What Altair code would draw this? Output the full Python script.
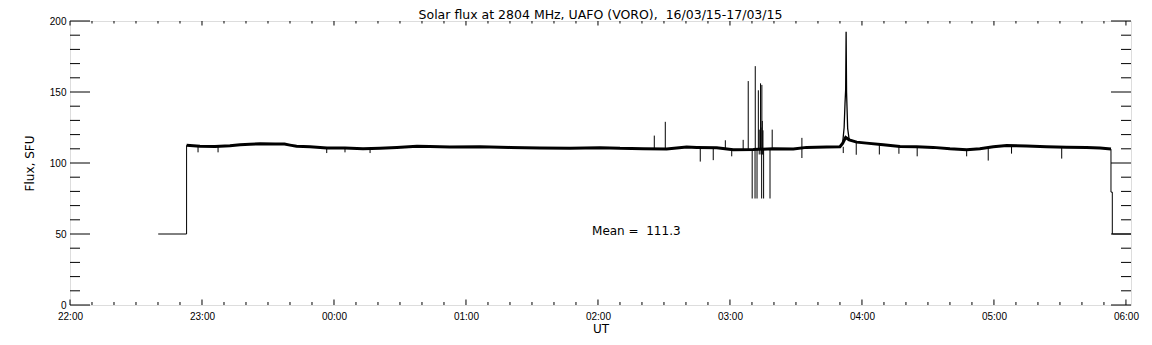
import altair as alt
import pandas as pd

NBSP = "\u00a0"
TITLE = "Solar flux at 2804 MHz, UAFO (VORO)," + NBSP + " 16/03/15-17/03/15"
X_TITLE = "UT"
Y_TITLE = "Flux, SFU"
X_TICK_LABELS = ["22:00", "23:00", "00:00", "01:00", "02:00", "03:00", "04:00", "05:00", "06:00"]
Y_TICKS = [0, 50, 100, 150, 200]
X_END_MIN = 482.3  # right edge of the frame, minutes after 22:00 UT

# ---- data (times in minutes after 22:00 UT, flux in SFU) ----
edge_left_t = [40.1, 53.0, 53.0]
edge_left_v = [50.0, 50.0, 112.5]
edge_right_t = [473.2, 473.2, 473.8, 473.8, 483.0]
edge_right_v = [109.8, 79.5, 79.5, 50.0, 50.0]

band_t = [53.0, 59.1, 65.9, 72.7, 77.3, 81.8, 86.4, 93.2, 97.5, 100.0, 103.0, 109.1, 116.8,
          125.0, 133.2, 140.9, 148.6, 157.7, 163.6, 172.7, 186.4, 200.0, 213.6, 227.3,
          240.9, 250.0, 260.6, 271.2, 280.3, 284.9, 294.0, 301.5, 310.6, 319.7, 328.8,
          334.8, 343.9, 350.0, 351.2, 352.6, 354.2, 357.6, 362.1, 369.7, 377.3, 384.8,
          392.4, 400.0, 407.6, 413.6, 419.7, 425.8, 434.8, 443.9, 453.0, 462.1, 468.2,
          473.2]
band_v = [112.5, 111.8, 111.6, 112.2, 112.8, 113.2, 113.6, 113.3, 113.3, 112.6, 111.8, 111.5, 110.5,
          110.6, 110.0, 110.4, 110.9, 111.8, 111.6, 111.2, 111.4, 111.0, 110.6, 110.4,
          110.8, 110.3, 110.1, 109.8, 111.2, 111.0, 110.8, 109.3, 109.5, 110.1, 109.8,
          111.0, 111.2, 111.4, 113.7, 118.0, 116.3, 114.7, 114.0, 112.8, 111.6, 111.4,
          111.0, 110.0, 109.3, 110.0, 111.4, 112.3, 111.9, 111.4, 111.1, 110.9, 110.5,
          109.8]

flare_t = [350.0, 351.2, 351.9, 352.3, 352.6, 352.8, 353.0, 353.2, 353.5, 354.2, 355.5]
flare_v = [111.4, 113.7, 125.0, 142.0, 152.0, 192.5, 150.0, 139.6, 124.4, 116.3, 115.5]

spike_t = [58.2, 67.3, 116.7, 125.0, 136.4, 265.6, 270.6, 286.5, 292.4, 297.9, 300.8,
           306.0, 308.3, 310.1, 311.4, 311.5, 312.3, 312.9, 313.3, 313.9, 314.1, 314.4,
           314.5, 314.7, 315.0, 315.3, 318.2, 319.2, 332.7, 351.5, 357.4, 367.9, 376.8,
           385.1, 407.6, 417.4, 428.0, 450.8]
spike_lo = [107.5, 107.5, 107.0, 107.5, 107.0, 110.1, 109.8, 101.0, 102.0, 109.5, 104.7,
            109.4, 109.4, 75.0, 75.0, 109.5, 75.0, 109.5, 106.0, 109.5, 106.0, 75.0,
            109.5, 106.0, 106.0, 75.0, 75.0, 109.5, 103.5, 107.0, 105.8, 106.0, 106.5,
            104.7, 104.7, 101.7, 106.6, 103.1]
spike_hi = [111.8, 111.6, 110.5, 110.6, 110.2, 119.3, 129.0, 110.8, 110.8, 116.0, 109.5,
            116.3, 157.7, 109.5, 109.5, 168.2, 109.5, 151.2, 123.5, 156.1, 125.0, 109.5,
            155.0, 129.6, 123.0, 109.5, 109.5, 123.5, 117.7, 111.4, 114.7, 112.8, 111.6,
            111.4, 109.3, 111.0, 112.3, 111.1]

MEAN_TEXT = "Mean =" + NBSP + " 111.3"
mean_t = [237.3]
mean_v = [52.4]

# ---- layout ----
W = 1061
H = 284
PAD_TOP = 13
FONT = "DejaVu Sans"
X_END = X_END_MIN / 60.0

band_df = pd.DataFrame({"h": [t / 60 for t in band_t], "v": band_v, "i": range(len(band_t))})
flare_df = pd.DataFrame({"h": [t / 60 for t in flare_t], "v": flare_v, "i": range(len(flare_t))})
edge_df = pd.DataFrame({
    "h": [t / 60 for t in edge_left_t + edge_right_t],
    "v": edge_left_v + edge_right_v,
    "seg": ["L"] * len(edge_left_t) + ["R"] * len(edge_right_t),
    "i": list(range(len(edge_left_t))) + list(range(len(edge_right_t))),
})
spike_df = pd.DataFrame({"h": [t / 60 for t in spike_t], "v": spike_lo, "hi": spike_hi})
mean_df = pd.DataFrame({"h": [t / 60 for t in mean_t], "v": mean_v, "txt": [MEAN_TEXT]})
title_df = pd.DataFrame({"txt": [TITLE]})

x_major = list(range(len(X_TICK_LABELS)))
x_minor = [k / 6 for k in range(1, 49) if k % 6]
y_minor = [v for v in range(10, 200, 10) if v % 50]
xmaj_df = pd.DataFrame({"h": x_major})
xmin_df = pd.DataFrame({"h": x_minor})
ymaj_df = pd.DataFrame({"v": Y_TICKS})
ymin_df = pd.DataFrame({"v": y_minor})

xscale = alt.Scale(domain=[0, X_END], nice=False, zero=False)
yscale = alt.Scale(domain=[0, 200], nice=False, zero=False)

label_expr = "[" + ",".join("'%s'" % s for s in X_TICK_LABELS) + "][round(datum.value)]"

band = alt.Chart(band_df).mark_line(color="black", strokeWidth=3.0, clip=True).encode(
    x=alt.X("h:Q", scale=xscale, title=X_TITLE,
            axis=alt.Axis(values=x_major, labelExpr=label_expr, ticks=False, domain=False,
                          grid=False, labelPadding=6, titlePadding=2, labelFlush=False,
                          labelOverlap=False, titleFontWeight="normal", titleFontSize=12,
                          titleFont=FONT)),
    y=alt.Y("v:Q", scale=yscale, title=Y_TITLE,
            axis=alt.Axis(values=Y_TICKS, ticks=False, domain=False, grid=False,
                          labelPadding=4, titlePadding=13, labelFlush=False,
                          titleFontWeight="normal", titleFontSize=12, titleFont=FONT)),
    order="i:Q",
)

flare = alt.Chart(flare_df).mark_line(color="black", strokeWidth=1.3, clip=True).encode(
    x=alt.X("h:Q", scale=xscale), y=alt.Y("v:Q", scale=yscale), order="i:Q")

edges = alt.Chart(edge_df).mark_line(color="black", strokeWidth=1, clip=True).encode(
    x=alt.X("h:Q", scale=xscale), y=alt.Y("v:Q", scale=yscale),
    detail="seg:N", order="i:Q")

spikes = alt.Chart(spike_df).mark_rule(color="black", strokeWidth=1, clip=True).encode(
    x=alt.X("h:Q", scale=xscale), y=alt.Y("v:Q", scale=yscale), y2="hi:Q")


def yticks(df, x0, x1):
    return alt.Chart(df).mark_rule(color="black", strokeWidth=1).encode(
        y=alt.Y("v:Q", scale=yscale), x=alt.value(x0), x2=alt.value(x1))


def xticks(df, y0, y1):
    return alt.Chart(df).mark_rule(color="black", strokeWidth=1).encode(
        x=alt.X("h:Q", scale=xscale), y=alt.value(y0), y2=alt.value(y1))


tick_layers = [
    yticks(ymaj_df, 0, 20), yticks(ymin_df, 0, 10),
    yticks(ymaj_df, W - 20, W), yticks(ymin_df, W - 10, W),
    xticks(xmaj_df, H, H - 5.5), xticks(xmin_df, H, H - 3),
    xticks(xmaj_df, 0, 4.5), xticks(xmin_df, 0, 2.5),
]

mean = alt.Chart(mean_df).mark_text(
    align="left", baseline="middle", font=FONT, fontSize=12, color="black").encode(
    x=alt.X("h:Q", scale=xscale), y=alt.Y("v:Q", scale=yscale), text="txt:N")

title = alt.Chart(title_df).mark_text(
    align="center", baseline="alphabetic", font=FONT, fontSize=12.5, color="black").encode(
    x=alt.value(W / 2), y=alt.value(-1.7), text="txt:N")

chart = alt.layer(band, flare, edges, spikes, *tick_layers, mean, title).properties(
    width=W, height=H,
    padding={"left": 62, "top": PAD_TOP, "right": 13, "bottom": 30},
    autosize=alt.AutoSizeParams(type="none"),
).configure_view(stroke="black", strokeWidth=1).configure_axis(
    labelFont=FONT, labelFontSize=12, labelColor="black",
    titleFont=FONT, titleFontSize=12, titleFontWeight="normal", titleColor="black",
).configure(background="white")

chart.save("out.html", embed_options={"renderer": "svg", "actions": False})
